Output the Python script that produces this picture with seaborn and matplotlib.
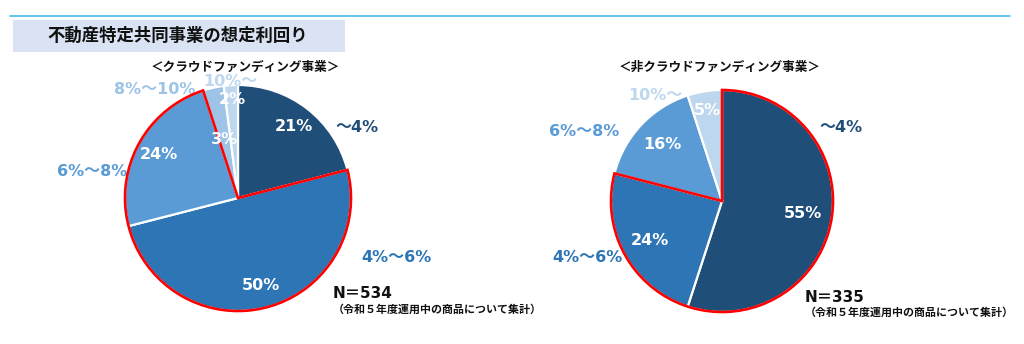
import numpy as np
import matplotlib
matplotlib.use("Agg")
import matplotlib.pyplot as plt
from matplotlib.patches import Wedge, Rectangle
import seaborn as sns

# ---- data ----
title = "不動産特定共同事業の想定利回り"
left_title = "＜クラウドファンディング事業＞"
right_title = "＜非クラウドファンディング事業＞"
left_categories = ["～4%", "4%～6%", "6%～8%", "8%～10%", "10%～"]
left_values = [21, 50, 24, 3, 2]
right_categories = ["～4%", "4%～6%", "6%～8%", "10%～"]
right_values = [55, 24, 16, 5]
left_n = "N＝534"
right_n = "N＝335"
note = "（令和５年度運用中の商品について集計）"

sns.set_theme(style="white")
plt.rcParams["font.family"] = ["Noto Sans CJK JP", "DejaVu Sans"]

pal = {"～4%": "#1F4E79", "4%～6%": "#2E75B6", "6%～8%": "#5B9BD5",
       "8%～10%": "#9DC3E6", "10%～": "#BDD7EE"}
label_col = {"～4%": "#1F4E79", "4%～6%": "#2E75B6", "6%～8%": "#5B9BD5",
             "8%～10%": "#9DC3E6", "10%～": "#BDD7EE"}

W, H = 1024, 344
fig = plt.figure(figsize=(W / 100, H / 100), dpi=100)
ax = fig.add_axes([0, 0, 1, 1])

def Y(py):
    return H - py

num_font = ["DejaVu Sans", "Noto Sans CJK JP"]

def draw_pie(values, cats, center, radius, pct_dist, red_range, outer_pos):
    colors = sns.color_palette([pal[c] for c in cats])
    wedges, _ = ax.pie(values, colors=colors, startangle=90, counterclock=False,
                       center=center, radius=radius,
                       wedgeprops=dict(edgecolor="white", linewidth=1.6))
    # outer category labels
    for c, (px, py) in zip(cats, outer_pos):
        ax.text(px, Y(py), c, ha="center", va="center", fontsize=11.5,
                fontweight="bold", color=label_col[c], family=num_font, zorder=1)
    # percent labels
    for w, v, d in zip(wedges, values, pct_dist):
        mid = np.deg2rad((w.theta1 + w.theta2) / 2)
        ax.text(center[0] + d * radius * np.cos(mid),
                center[1] + d * radius * np.sin(mid),
                f"{v}%", ha="center", va="center", fontsize=11.5,
                fontweight="bold", color="white", family=num_font, zorder=5)
    i_lo, i_hi = red_range
    ax.add_patch(Wedge(center, radius, wedges[i_lo].theta1, wedges[i_hi].theta2,
                       fill=False, edgecolor="#FF0000", linewidth=1.9, zorder=4))
    return wedges

# left pie
draw_pie(left_values, left_categories, (238, Y(198)), 113,
         [0.8, 0.8, 0.8, 0.53, 0.87], (2, 1),
         [(357, 128), (396, 258), (92, 172), (155, 89), (230, 81)])
# right pie
draw_pie(right_values, right_categories, (722, Y(201)), 111,
         [0.74, 0.74, 0.74, 0.83], (1, 0),
         [(841, 127), (587, 258), (584, 132), (655, 95)])

# header line and title box
ax.plot([10, 1010], [Y(16), Y(16)], color="#45BDE6", lw=1.2)
ax.add_patch(Rectangle((13, Y(52)), 332, 32, facecolor="#DAE3F3", edgecolor="none"))
ax.text(47, Y(36), title, ha="left", va="center", fontsize=12.5,
        fontweight="bold", color="#111111")

ax.text(245, Y(67), left_title, ha="center", va="center", fontsize=9.1,
        fontweight="bold", color="#111111")
ax.text(720, Y(67), right_title, ha="center", va="center", fontsize=9.1,
        fontweight="bold", color="#111111")

ax.text(333, Y(293), left_n, ha="left", va="center", fontsize=11,
        fontweight="bold", color="#111111", family=num_font)
ax.text(333, Y(309), note, ha="left", va="center", fontsize=7.9,
        fontweight="bold", color="#111111")
ax.text(805, Y(297), right_n, ha="left", va="center", fontsize=11,
        fontweight="bold", color="#111111", family=num_font)
ax.text(805, Y(312), note, ha="left", va="center", fontsize=7.9,
        fontweight="bold", color="#111111")

ax.set_xlim(0, W)
ax.set_ylim(0, H)
ax.set_aspect("equal")
ax.axis("off")
fig.savefig("out.png", dpi=100, facecolor="white")
